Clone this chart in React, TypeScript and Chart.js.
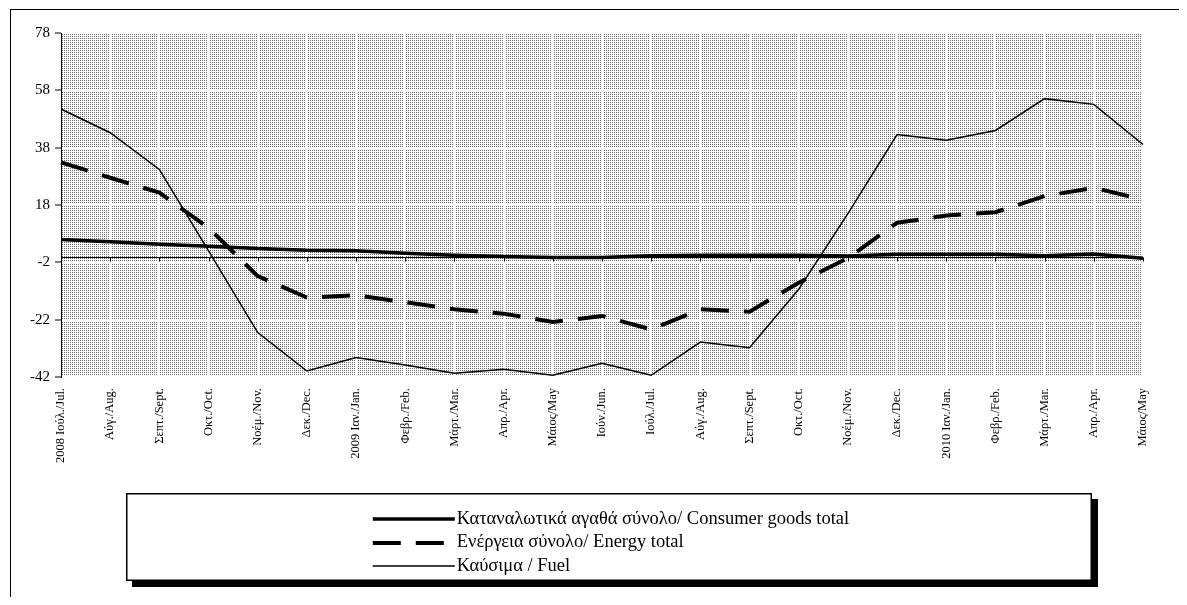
import React, { useEffect, useRef } from 'react';
import { Chart, registerables } from 'chart.js';

Chart.register(...registerables);

const categories: string[] = [
  '2008 Ιούλ./Jul.', 'Αύγ./Aug.', 'Σεπτ./Sept.', 'Οκτ./Oct.', 'Νοέμ./Nov.', 'Δεκ./Dec.',
  '2009 Ιαν./Jan.', 'Φεβρ./Feb.', 'Μάρτ./Mar.', 'Απρ./Apr.', 'Μάιος/May', 'Ιούν./Jun.',
  'Ιούλ./Jul.', 'Αύγ./Aug.', 'Σεπτ./Sept.', 'Οκτ./Oct.', 'Νοέμ./Nov.', 'Δεκ./Dec.',
  '2010 Ιαν./Jan.', 'Φεβρ./Feb.', 'Μάρτ./Mar.', 'Απρ./Apr.', 'Μάιος/May',
];

const consumerGoods: number[] = [
  6, 5.2, 4.3, 3.6, 2.8, 2.2, 2, 1.2, 0.5, 0, -0.3, -0.3,
  0.3, 0.5, 0.5, 0.5, 0.2, 0.8, 0.8, 0.8, 0.3, 0.9, -0.6,
];

const energy: number[] = [
  32.9, 27.5, 22.3, 10, -6.8, -14.3, -13.5, -15.9, -18.4, -19.9, -22.8, -20.7,
  -25.4, -18.4, -19.2, -9.1, -0.5, 11.8, 14.3, 15.5, 21.1, 24, 19.9,
];

const fuel: number[] = [
  51.5, 43.2, 30.4, 2, -26.5, -39.9, -35.2, -37.8, -40.7, -39.3, -41.4, -37.2,
  -41.4, -29.8, -31.8, -11.4, 15, 42.6, 40.6, 44, 55.1, 53.1, 39.1,
];

const seriesLabels: string[] = [
  'Καταναλωτικά αγαθά σύνολο/ Consumer goods total',
  'Ενέργεια σύνολο/ Energy total',
  'Καύσιμα / Fuel',
];

const yMin = -42;
const yMax = 78;
const yStep = 20;

const W = 1171;
const H = 589;
const FONT = "'Liberation Serif', 'Times New Roman', serif";

const excelLook = {
  id: 'excelLook',
  beforeDraw(chart: any) {
    const { ctx, chartArea: a } = chart;
    ctx.save();
    ctx.fillStyle = '#ffffff';
    ctx.fillRect(0, 0, chart.width, chart.height);
    const tile = document.createElement('canvas');
    tile.width = 2;
    tile.height = 2;
    const t = tile.getContext('2d')!;
    t.fillStyle = '#ffffff';
    t.fillRect(0, 0, 2, 2);
    t.fillStyle = '#6e6e6e';
    t.fillRect(0, 0, 1, 1);
    const pat = ctx.createPattern(tile, 'repeat');
    if (pat) ctx.fillStyle = pat;
    ctx.fillRect(a.left, a.top, a.right - a.left, a.bottom - a.top);
    ctx.restore();
  },
  beforeDatasetsDraw(chart: any) {
    const { ctx, chartArea: a } = chart;
    const xs = chart.scales.x;
    const ys = chart.scales.y;
    const y0 = Math.round(ys.getPixelForValue(0)) + 0.5;
    ctx.save();
    ctx.strokeStyle = '#000';
    ctx.lineWidth = 1;
    ctx.beginPath();
    ctx.moveTo(a.left, y0);
    ctx.lineTo(a.right, y0);
    for (let i = 0; i < categories.length; i++) {
      const x = Math.round(xs.getPixelForValue(i)) + 0.5;
      ctx.moveTo(x, y0);
      ctx.lineTo(x, y0 + 4);
    }
    ctx.stroke();
    ctx.restore();
  },
  afterDraw(chart: any) {
    const { ctx } = chart;
    ctx.save();
    // outer frame (top and left visible)
    ctx.fillStyle = '#000';
    ctx.fillRect(2, 1, chart.width - 2, 1);
    ctx.fillRect(2, 1, 1, chart.height - 1);

    // legend box with shadow
    const bx = 118, by = 485, bw = 966, bh = 88, sh = 6;
    ctx.fillStyle = '#000';
    ctx.fillRect(bx + sh, by + sh, bw, bh);
    ctx.fillStyle = '#fff';
    ctx.fillRect(bx, by, bw, bh);
    ctx.strokeStyle = '#000';
    ctx.lineWidth = 1.5;
    ctx.strokeRect(bx + 0.75, by + 0.75, bw - 1.5, bh - 1.5);

    ctx.font = `18.5px ${FONT}`;
    ctx.textBaseline = 'middle';
    ctx.textAlign = 'left';
    const sampleW = 82;
    const gap = 2;
    let maxText = 0;
    chart.data.datasets.forEach((d: any) => {
      maxText = Math.max(maxText, ctx.measureText(d.label).width);
    });
    const contentW = sampleW + gap + maxText;
    const startX = bx + bw / 2 - contentW / 2 + 2;
    chart.data.datasets.forEach((d: any, i: number) => {
      const y = by + 26 + i * 23.5;
      ctx.strokeStyle = d.borderColor;
      ctx.lineWidth = d.borderWidth;
      ctx.setLineDash(d.borderDash || []);
      ctx.lineCap = 'butt';
      ctx.beginPath();
      ctx.moveTo(startX, Math.round(y));
      ctx.lineTo(startX + sampleW, Math.round(y));
      ctx.stroke();
      ctx.setLineDash([]);
      ctx.fillStyle = '#000';
      ctx.fillText(d.label, startX + sampleW + gap, y);
    });
    ctx.restore();
  },
};

export default function App() {
  const ref = useRef<HTMLCanvasElement | null>(null);

  useEffect(() => {
    if (!ref.current) return;
    const chart = new Chart(ref.current, {
      type: 'line',
      data: {
        labels: categories,
        datasets: [
          {
            label: seriesLabels[0],
            data: consumerGoods,
            borderColor: '#000',
            borderWidth: 3.5,
            pointRadius: 0,
            tension: 0,
            fill: false,
          },
          {
            label: seriesLabels[1],
            data: energy,
            borderColor: '#000',
            borderWidth: 4,
            borderDash: [28, 15],
            pointRadius: 0,
            tension: 0,
            fill: false,
          },
          {
            label: seriesLabels[2],
            data: fuel,
            borderColor: '#000',
            borderWidth: 1.5,
            pointRadius: 0,
            tension: 0,
            fill: false,
          },
        ],
      },
      options: {
        responsive: false,
        animation: false,
        devicePixelRatio: 1,
        layout: { padding: { top: 25, right: 36, left: 0, bottom: 0 } },
        plugins: {
          legend: { display: false },
          tooltip: { enabled: false },
          title: { display: false },
        },
        scales: {
          x: {
            type: 'category',
            offset: false,
            grid: {
              display: true,
              color: '#ffffff',
              lineWidth: 2,
              drawOnChartArea: true,
              drawTicks: true,
              tickLength: 8,
              tickColor: 'rgba(0,0,0,0)',
              offset: false,
            },
            border: { display: false },
            ticks: {
              autoSkip: false,
              maxRotation: 90,
              minRotation: 90,
              padding: 3,
              color: '#000',
              font: { family: FONT, size: 12.5 },
            },
            afterFit: (scale: any) => {
              scale.height = H - 25 - 344;
            },
          },
          y: {
            type: 'linear',
            min: yMin,
            max: yMax,
            grid: {
              color: '#ffffff',
              lineWidth: 2,
              tickColor: '#000',
              tickWidth: 1,
              tickLength: 6,
            },
            border: { display: true, color: '#000', width: 1 },
            ticks: {
              stepSize: yStep,
              padding: 5,
              color: '#000',
              font: { family: FONT, size: 15 },
            },
            afterFit: (scale: any) => {
              scale.width = 53;
            },
          },
        },
      },
      plugins: [excelLook],
    });
    return () => chart.destroy();
  }, []);

  return (
    <div>
      <canvas ref={ref} width={W} height={H} style={{ display: 'block', width: W, height: H }} />
    </div>
  );
}
